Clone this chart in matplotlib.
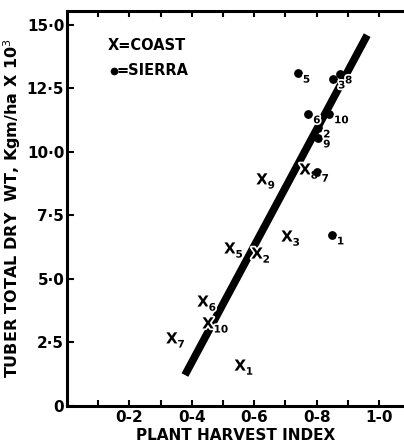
import matplotlib
matplotlib.use("Agg")
import matplotlib.pyplot as plt
import matplotlib.patheffects as pe
from matplotlib import font_manager

names = {f.name for f in font_manager.fontManager.ttflist}
FONT = "Liberation Sans Narrow" if "Liberation Sans Narrow" in names else "DejaVu Sans"
plt.rcParams['font.family'] = [FONT, 'DejaVu Sans']

# Coast (X) data: harvest index, tuber dry wt (x10^3 kg/ha), label
coast_x = [0.555, 0.609, 0.705, 0.522, 0.436, 0.336, 0.763, 0.625, 0.452]
coast_y = [1.57, 5.98, 6.65, 6.18, 4.09, 2.64, 9.29, 8.90, 3.23]
coast_lab = ["1", "2", "3", "5", "6", "7", "8", "9", "10"]

# Sierra (dots)
sierra_x = [0.849, 0.805, 0.853, 0.740, 0.773, 0.800, 0.875, 0.805, 0.840]
sierra_y = [6.73, 10.94, 12.87, 13.10, 11.50, 9.20, 13.07, 10.55, 11.50]
sierra_lab = ["1", "2", "3", "5", "6", "7", "8", "9", "10"]

# Regression line endpoints
line_x = [0.378, 0.962]
line_y = [1.22, 14.6]

xticks = [0.2, 0.4, 0.6, 0.8, 1.0]
xticklabels = ["0-2", "0-4", "0-6", "0-8", "1-0"]
yticks = [0, 2.5, 5.0, 7.5, 10.0, 12.5, 15.0]
yticklabels = ["0", "2·5", "5·0", "7·5", "10·0", "12·5", "15·0"]

fig = plt.figure(figsize=(4.04, 4.48), dpi=100)
ax = fig.add_axes([67/404, 42/448, 1 - 67/404, (406 - 11)/448])
ax.set_xlim(0, 1.08)
ax.set_ylim(0, 15.55)

ax.plot(line_x, line_y, color="black", lw=5.5, solid_capstyle="butt", zorder=1)

white = [pe.withStroke(linewidth=2.5, foreground="white")]

for x, y, l in zip(coast_x, coast_y, coast_lab):
    ax.text(x, y, "X", ha="center", va="center", fontsize=11, fontweight="bold",
            zorder=3, path_effects=white)
    ax.text(x + 0.018, y - 0.22, l, ha="left", va="center", fontsize=7.5,
            fontweight="bold", zorder=3, path_effects=white)

ax.scatter(sierra_x, sierra_y, s=28, color="black", zorder=3)
for x, y, l in zip(sierra_x, sierra_y, sierra_lab):
    ax.text(x + 0.016, y - 0.25, l, ha="left", va="center", fontsize=7.5,
            fontweight="bold", zorder=3, path_effects=white)

ax.text(0.13, 14.2, "X=COAST", fontsize=10.5, fontweight="bold", va="center")
ax.plot([0.15], [13.2], "o", color="black", ms=4.5)
ax.text(0.16, 13.2, "=SIERRA", fontsize=10.5, fontweight="bold", va="center")

ax.spines["right"].set_visible(False)
for s in ["left", "bottom", "top"]:
    ax.spines[s].set_linewidth(2.2)

ax.set_xticks(xticks)
ax.set_xticklabels(xticklabels)
ax.set_xticks([0.1, 0.3, 0.5, 0.7, 0.9], minor=True)
ax.set_yticks(yticks)
ax.set_yticklabels(yticklabels)
ax.tick_params(axis="both", which="both", direction="in", width=1.5,
               top=True, labelsize=11, pad=3)
ax.tick_params(axis="x", which="major", length=4)
ax.tick_params(axis="x", which="minor", length=4)
ax.tick_params(axis="y", length=5, pad=2)
for t in ax.get_xticklabels() + ax.get_yticklabels():
    t.set_fontweight("bold")

ax.set_xlabel("PLANT HARVEST INDEX", fontsize=11, fontweight="bold", labelpad=2)
ax.set_ylabel("TUBER TOTAL DRY  WT, K$\\mathregular{gm}$/$\\mathregular{ha}$ X 10$^{3}$",
              fontsize=11.5, fontweight="bold", labelpad=3)

fig.savefig("out.png", dpi=100)
